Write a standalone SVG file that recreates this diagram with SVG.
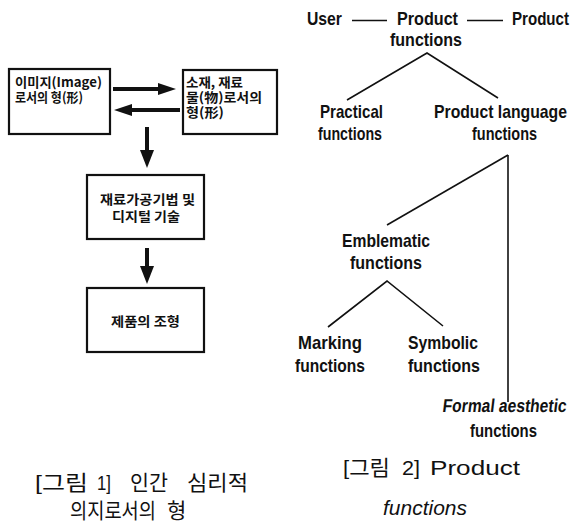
<svg xmlns="http://www.w3.org/2000/svg" width="573" height="528" viewBox="0 0 573 528">
  <style>
    .box { fill: #fff; stroke: #111; stroke-width: 2.2; }
    .kbox { font-family: "Noto Sans CJK KR", "Noto Sans", sans-serif; font-weight: bold; font-size: 13px; fill: #111; }
    .tree { font-family: "Liberation Sans", Arial, sans-serif; font-weight: bold; font-size: 18.5px; fill: #111; }
    .cap { font-family: "Liberation Sans", "Noto Sans CJK KR", sans-serif; font-size: 21px; fill: #111; }
    .link { stroke: #111; stroke-width: 1.6; fill: none; }
    .fat { stroke: #111; stroke-width: 4; fill: none; }
    .head { fill: #111; }
  </style>

  <!-- Left flow: boxes -->
  <g id="node-image">
    <rect class="box" x="9" y="69" width="101" height="65"/>
    <text class="kbox" x="15" y="87" textLength="87" lengthAdjust="spacingAndGlyphs">이미지(Image)</text>
    <text class="kbox" x="15" y="102" textLength="68" lengthAdjust="spacingAndGlyphs">로서의 형(形)</text>
  </g>
  <g id="node-material">
    <rect class="box" x="183" y="70" width="94" height="64"/>
    <text class="kbox" x="186" y="87" textLength="57" lengthAdjust="spacingAndGlyphs">소재, 재료</text>
    <text class="kbox" x="186" y="102" textLength="76" lengthAdjust="spacingAndGlyphs">물(物)로서의</text>
    <text class="kbox" x="186" y="117" textLength="38" lengthAdjust="spacingAndGlyphs">형(形)</text>
  </g>
  <g id="node-process">
    <rect class="box" x="87" y="175" width="117" height="64"/>
    <text class="kbox" x="100" y="204" textLength="95" lengthAdjust="spacingAndGlyphs">재료가공기법 및</text>
    <text class="kbox" x="112" y="221" textLength="68" lengthAdjust="spacingAndGlyphs">디지털 기술</text>
  </g>
  <g id="node-form">
    <rect class="box" x="87" y="288" width="117" height="64"/>
    <text class="kbox" x="111" y="326" textLength="69" lengthAdjust="spacingAndGlyphs">제품의 조형</text>
  </g>

  <!-- Left flow: arrows -->
  <g id="connectors-left">
    <line class="fat" x1="113" y1="89" x2="160" y2="89"/>
    <polygon class="head" points="158,83 176,89 158,95"/>
    <line class="fat" x1="132" y1="110" x2="180" y2="110"/>
    <polygon class="head" points="132,104 114,110 132,116"/>
    <line class="fat" x1="147" y1="127" x2="147" y2="152"/>
    <polygon class="head" points="140,150 147,168 154,150"/>
    <line class="fat" x1="147" y1="248" x2="147" y2="268"/>
    <polygon class="head" points="140,266 147,284 154,266"/>
  </g>

  <!-- Right tree: connectors -->
  <g id="connectors-tree">
    <line class="link" x1="352" y1="20.5" x2="387" y2="20.5"/>
    <line class="link" x1="467" y1="20.5" x2="503" y2="20.5"/>
    <polyline class="link" points="347,100 427,53 498,98"/>
    <line class="link" x1="508" y1="155" x2="387" y2="225"/>
    <line class="link" x1="508" y1="155" x2="508" y2="402"/>
    <polyline class="link" points="328,327 387,281 443,326"/>
  </g>

  <!-- Right tree: labels -->
  <g id="node-user">
    <text class="tree" x="307" y="25" textLength="35" lengthAdjust="spacingAndGlyphs">User</text>
  </g>
  <g id="node-product-functions">
    <text class="tree" x="397" y="25" textLength="61" lengthAdjust="spacingAndGlyphs">Product</text>
    <text class="tree" x="390" y="46" textLength="72" lengthAdjust="spacingAndGlyphs">functions</text>
  </g>
  <g id="node-product">
    <text class="tree" x="512" y="25" textLength="57" lengthAdjust="spacingAndGlyphs">Product</text>
  </g>
  <g id="node-practical">
    <text class="tree" x="320" y="118" textLength="63" lengthAdjust="spacingAndGlyphs">Practical</text>
    <text class="tree" x="318" y="140" textLength="64" lengthAdjust="spacingAndGlyphs">functions</text>
  </g>
  <g id="node-product-language">
    <text class="tree" x="434" y="118" textLength="133" lengthAdjust="spacingAndGlyphs">Product language</text>
    <text class="tree" x="472" y="140" textLength="65" lengthAdjust="spacingAndGlyphs">functions</text>
  </g>
  <g id="node-emblematic">
    <text class="tree" x="342" y="247" textLength="88" lengthAdjust="spacingAndGlyphs">Emblematic</text>
    <text class="tree" x="350" y="269" textLength="72" lengthAdjust="spacingAndGlyphs">functions</text>
  </g>
  <g id="node-marking">
    <text class="tree" x="298" y="349" textLength="64" lengthAdjust="spacingAndGlyphs">Marking</text>
    <text class="tree" x="295" y="372" textLength="70" lengthAdjust="spacingAndGlyphs">functions</text>
  </g>
  <g id="node-symbolic">
    <text class="tree" x="408" y="349" textLength="70" lengthAdjust="spacingAndGlyphs">Symbolic</text>
    <text class="tree" x="408" y="372" textLength="72" lengthAdjust="spacingAndGlyphs">functions</text>
  </g>
  <g id="node-formal-aesthetic">
    <g transform="translate(442,412) skewX(-7)">
      <text class="tree" x="0" y="0" textLength="124" lengthAdjust="spacingAndGlyphs">Formal aesthetic</text>
    </g>
    <text class="tree" x="470" y="437" textLength="67" lengthAdjust="spacingAndGlyphs">functions</text>
  </g>

  <!-- Captions -->
  <g id="caption-1">
    <text class="cap">
      <tspan x="35" y="490" textLength="53" lengthAdjust="spacingAndGlyphs">[그림</tspan>
      <tspan x="97" y="490" textLength="14" lengthAdjust="spacingAndGlyphs">1]</tspan>
      <tspan x="130" y="490" textLength="38" lengthAdjust="spacingAndGlyphs">인간</tspan>
      <tspan x="187" y="490" textLength="61" lengthAdjust="spacingAndGlyphs">심리적</tspan>
    </text>
    <text class="cap">
      <tspan x="70" y="518" textLength="86" lengthAdjust="spacingAndGlyphs">의지로서의</tspan>
      <tspan x="167" y="518">형</tspan>
    </text>
  </g>
  <g id="caption-2">
    <text class="cap">
      <tspan x="343" y="475" textLength="47" lengthAdjust="spacingAndGlyphs">[그림</tspan>
      <tspan x="402" y="475" textLength="18" lengthAdjust="spacingAndGlyphs">2]</tspan>
      <tspan x="430" y="475" textLength="90" lengthAdjust="spacingAndGlyphs">Product</tspan>
    </text>
    <text class="cap" x="383" y="515" font-style="italic" textLength="84" lengthAdjust="spacingAndGlyphs">functions</text>
  </g>
</svg>
